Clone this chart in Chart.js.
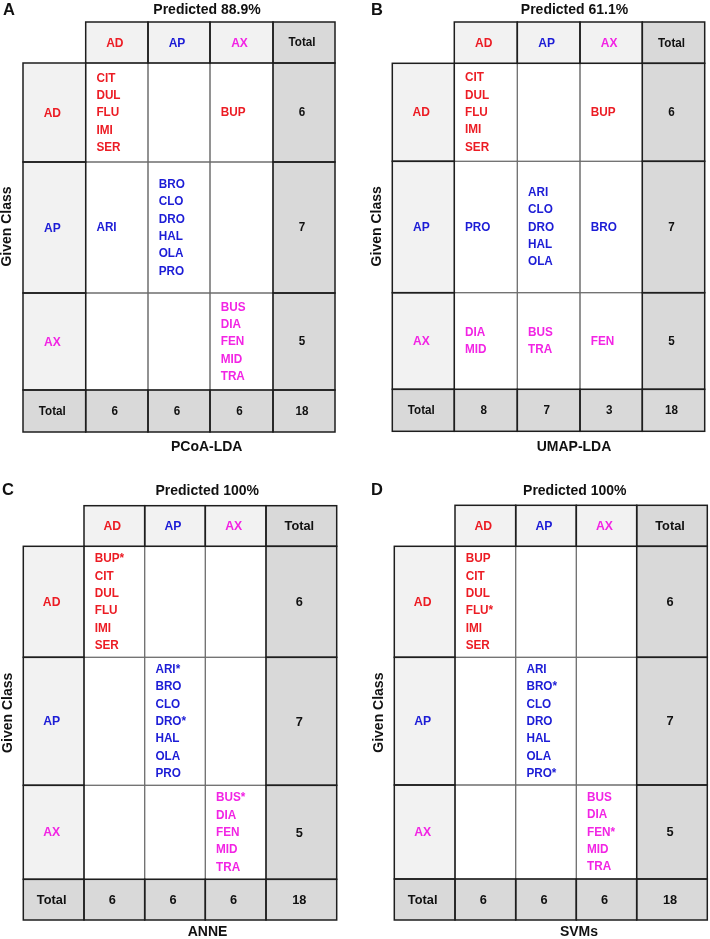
<!DOCTYPE html>
<html><head><meta charset="utf-8">
<script src="https://cdn.jsdelivr.net/npm/chart.js@4.4.1/dist/chart.umd.min.js"></script>
<style>
html,body{margin:0;padding:0;background:#fff;}
#wrap{position:relative;width:710px;height:939px;overflow:hidden;}
#wrap canvas{position:absolute;left:0;top:0;}
</style></head>
<body><div id="wrap">
<canvas id="cA" width="710" height="939"></canvas>
<canvas id="cB" width="710" height="939"></canvas>
<canvas id="cC" width="710" height="939"></canvas>
<canvas id="cD" width="710" height="939"></canvas>
</div>
<script>
// ---------------- DATA ----------------
const classes = ['AD', 'AP', 'AX'];
const totalLabel = 'Total';
const predictedLabel = 'Predicted';
const givenLabel = 'Given Class';
const panelLetters = ['A', 'B', 'C', 'D'];
const methods = ['PCoA-LDA', 'UMAP-LDA', 'ANNE', 'SVMs'];
const accuracies = ['88.9%', '61.1%', '100%', '100%'];
const rowTotals = [6, 7, 5];
const grandTotal = 18;

const colTotalsA = [6, 6, 6];
const colTotalsB = [8, 7, 3];
const colTotalsC = [6, 6, 6];
const colTotalsD = [6, 6, 6];

const cellsA = [
  [['CIT','DUL','FLU','IMI','SER'], [], ['BUP']],
  [['ARI'], ['BRO','CLO','DRO','HAL','OLA','PRO'], []],
  [[], [], ['BUS','DIA','FEN','MID','TRA']]
];
const cellsB = [
  [['CIT','DUL','FLU','IMI','SER'], [], ['BUP']],
  [['PRO'], ['ARI','CLO','DRO','HAL','OLA'], ['BRO']],
  [['DIA','MID'], ['BUS','TRA'], ['FEN']]
];
const cellsC = [
  [['BUP*','CIT','DUL','FLU','IMI','SER'], [], []],
  [[], ['ARI*','BRO','CLO','DRO*','HAL','OLA','PRO'], []],
  [[], [], ['BUS*','DIA','FEN','MID','TRA']]
];
const cellsD = [
  [['BUP','CIT','DUL','FLU*','IMI','SER'], [], []],
  [[], ['ARI','BRO*','CLO','DRO','HAL','OLA','PRO*'], []],
  [[], [], ['BUS','DIA','FEN*','MID','TRA']]
];

// ---------------- LAYOUT / STYLE ----------------
const classColors = ['#ec1c24', '#1c1cd6', '#f224e4'];
const FONT = '"Liberation Sans", Arial, Helvetica, sans-serif';
const layouts = [
  {left:23,    top:22,    colW:[62.7,62.3,62,63,62],        rowH:[41,99,131,97,42],
   titleX:207,   titleY:10.5, axisX:206.7, axisY:447, letterX:3,   letterY:10,  numFont:12.4, clsFont:12.8},
  {left:392.3, top:22,    colW:[62,63,62.7,62.3,62.4],      rowH:[41.3,98,131.4,96.6,42],
   titleX:574.5, titleY:10.5, axisX:574,   axisY:447, letterX:371, letterY:10,  numFont:12.4, clsFont:12.8},
  {left:23.3,  top:505.7, colW:[60.7,60.7,60.6,60.7,70.7],  rowH:[40.6,111,128,94,40.7],
   titleX:207.2, titleY:491, axisX:207.5, axisY:932, letterX:2,   letterY:490, numFont:13.6, clsFont:13},
  {left:394.3, top:505.3, colW:[60.7,60.7,60.6,60.4,70.6],  rowH:[41,111,127.7,94,41],
   titleX:574.8, titleY:491, axisX:579,   axisY:932, letterX:371, letterY:490, numFont:13.6, clsFont:13}
];
const LINE_H = 17.3;
const NAME_PAD = 10.7;
const NAME_FONT = 12.5;
const SX = 0.94; // horizontal squeeze of cell text

function cum(arr){ const out=[0]; arr.forEach(v=>out.push(out[out.length-1]+v)); return out; }

function sText(ctx, text, x, y, sx) {
  ctx.save();
  ctx.translate(x, y);
  ctx.scale(sx, 1);
  ctx.fillText(text, 0, 0);
  ctx.restore();
}

const tablePlugin = {
  id: 'confTable',
  beforeDatasetsDraw(chart) {
    const o = chart.options.plugins.confTable;
    const {ctx} = chart; const xs = chart.scales.x, ys = chart.scales.y;
    const xe = cum(o.layout.colW), ye = cum(o.layout.rowH);
    const rect = (r,c) => {
      const x0 = xs.getPixelForValue(xe[c]), x1 = xs.getPixelForValue(xe[c+1]);
      const y0 = ys.getPixelForValue(ye[r]), y1 = ys.getPixelForValue(ye[r+1]);
      return [x0, y0, x1-x0, y1-y0];
    };
    ctx.save();
    for (let r=0;r<5;r++) for (let c=0;c<5;c++) {
      if (r===0 && c===0) continue;
      let fill = '#ffffff';
      if (r===4 || c===4) fill = '#d9d9d9';
      else if (r===0 || c===0) fill = '#f2f2f2';
      ctx.fillStyle = fill;
      ctx.fillRect(...rect(r,c));
    }
    ctx.strokeStyle = '#6e6e6e'; ctx.lineWidth = 1;
    for (let r=1;r<4;r++) for (let c=1;c<4;c++) ctx.strokeRect(...rect(r,c));
    ctx.strokeStyle = '#1e1e1e'; ctx.lineWidth = 1.5;
    for (let r=0;r<5;r++) for (let c=0;c<5;c++) {
      if (r===0 && c===0) continue;
      if (r>=1 && r<=3 && c>=1 && c<=3) continue;
      ctx.strokeRect(...rect(r,c));
    }
    ctx.restore();
  },
  afterDatasetsDraw(chart) {
    const o = chart.options.plugins.confTable;
    const L = o.layout;
    const {ctx} = chart;
    const meta = chart.getDatasetMeta(0);
    const ds = chart.data.datasets[0].data;
    ctx.save();
    ctx.textBaseline = 'middle';
    meta.data.forEach((pt, i) => {
      const d = ds[i];
      const px = pt.x, py = pt.y;
      if (d.kind === 'list') {
        const n = d.names.length;
        const xl = chart.scales.x.getPixelForValue(d.x0) + NAME_PAD;
        ctx.textAlign = 'left';
        ctx.fillStyle = d.color;
        ctx.font = 'bold ' + NAME_FONT + 'px ' + FONT;
        d.names.forEach((nm, k) => sText(ctx, nm, xl, py + 0.3 + (k - (n-1)/2) * LINE_H, SX));
      } else {
        ctx.textAlign = 'center';
        ctx.fillStyle = d.color;
        ctx.font = 'bold ' + d.size + 'px ' + FONT;
        sText(ctx, d.text, px - 2, py + 0.5, SX);
      }
    });
    ctx.fillStyle = '#111';
    ctx.textAlign = 'center';
    ctx.font = 'bold 14px ' + FONT;
    ctx.fillText(o.title, L.titleX, L.titleY);
    ctx.fillText(o.axis, L.axisX, L.axisY);
    ctx.textAlign = 'left';
    ctx.font = 'bold 16.5px ' + FONT;
    ctx.fillText(o.letter, L.letterX, L.letterY);
    const ye = cum(L.rowH);
    const cy = chart.scales.y.getPixelForValue((ye[1] + ye[4]) / 2);
    const cx = chart.scales.x.getPixelForValue(0) - 15.5;
    ctx.translate(cx, cy);
    ctx.rotate(-Math.PI/2);
    ctx.textAlign = 'center';
    ctx.font = 'bold 14px ' + FONT;
    ctx.fillText(givenLabel, 0, 0);
    ctx.restore();
  }
};

function buildPoints(cells, colTotals, L) {
  const xe = cum(L.colW), ye = cum(L.rowH);
  const pts = [];
  const cx = c => (xe[c] + xe[c+1]) / 2, cy = r => (ye[r] + ye[r+1]) / 2;
  classes.forEach((cl, j) => pts.push({x: cx(j+1), y: cy(0), kind:'text', text: cl, color: classColors[j], size: L.clsFont}));
  pts.push({x: cx(4), y: cy(0), kind:'text', text: totalLabel, color:'#111', size: L.numFont});
  classes.forEach((cl, i) => {
    pts.push({x: cx(0), y: cy(i+1), kind:'text', text: cl, color: classColors[i], size: L.clsFont});
    cells[i].forEach((names, j) => {
      if (names.length) pts.push({x: cx(j+1), y: cy(i+1), x0: xe[j+1], kind:'list', names: names, color: classColors[i]});
    });
    pts.push({x: cx(4), y: cy(i+1), kind:'text', text: String(rowTotals[i]), color:'#111', size: L.numFont});
  });
  pts.push({x: cx(0), y: cy(4), kind:'text', text: totalLabel, color:'#111', size: L.numFont});
  colTotals.forEach((v, j) => pts.push({x: cx(j+1), y: cy(4), kind:'text', text: String(v), color:'#111', size: L.numFont}));
  pts.push({x: cx(4), y: cy(4), kind:'text', text: String(grandTotal), color:'#111', size: L.numFont});
  return pts;
}

const panels = [
  {id:'cA', cells: cellsA, totals: colTotalsA},
  {id:'cB', cells: cellsB, totals: colTotalsB},
  {id:'cC', cells: cellsC, totals: colTotalsC},
  {id:'cD', cells: cellsD, totals: colTotalsD}
];

panels.forEach((p, k) => {
  const L = layouts[k];
  const W = L.colW.reduce((a,b)=>a+b,0), H = L.rowH.reduce((a,b)=>a+b,0);
  new Chart(document.getElementById(p.id), {
    type: 'scatter',
    data: { datasets: [{ data: buildPoints(p.cells, p.totals, L), pointRadius: 0, pointHoverRadius: 0 }] },
    options: {
      responsive: false, animation: false, devicePixelRatio: 1,
      events: [],
      layout: { padding: { left: L.left, top: L.top, right: 710 - L.left - W, bottom: 939 - L.top - H } },
      scales: {
        x: { type: 'linear', min: 0, max: W, display: false },
        y: { type: 'linear', min: 0, max: H, reverse: true, display: false }
      },
      plugins: {
        legend: { display: false }, tooltip: { enabled: false },
        confTable: { layout: L, title: predictedLabel + ' ' + accuracies[k], axis: methods[k], letter: panelLetters[k] }
      }
    },
    plugins: [tablePlugin]
  });
});
</script>
</body></html>
